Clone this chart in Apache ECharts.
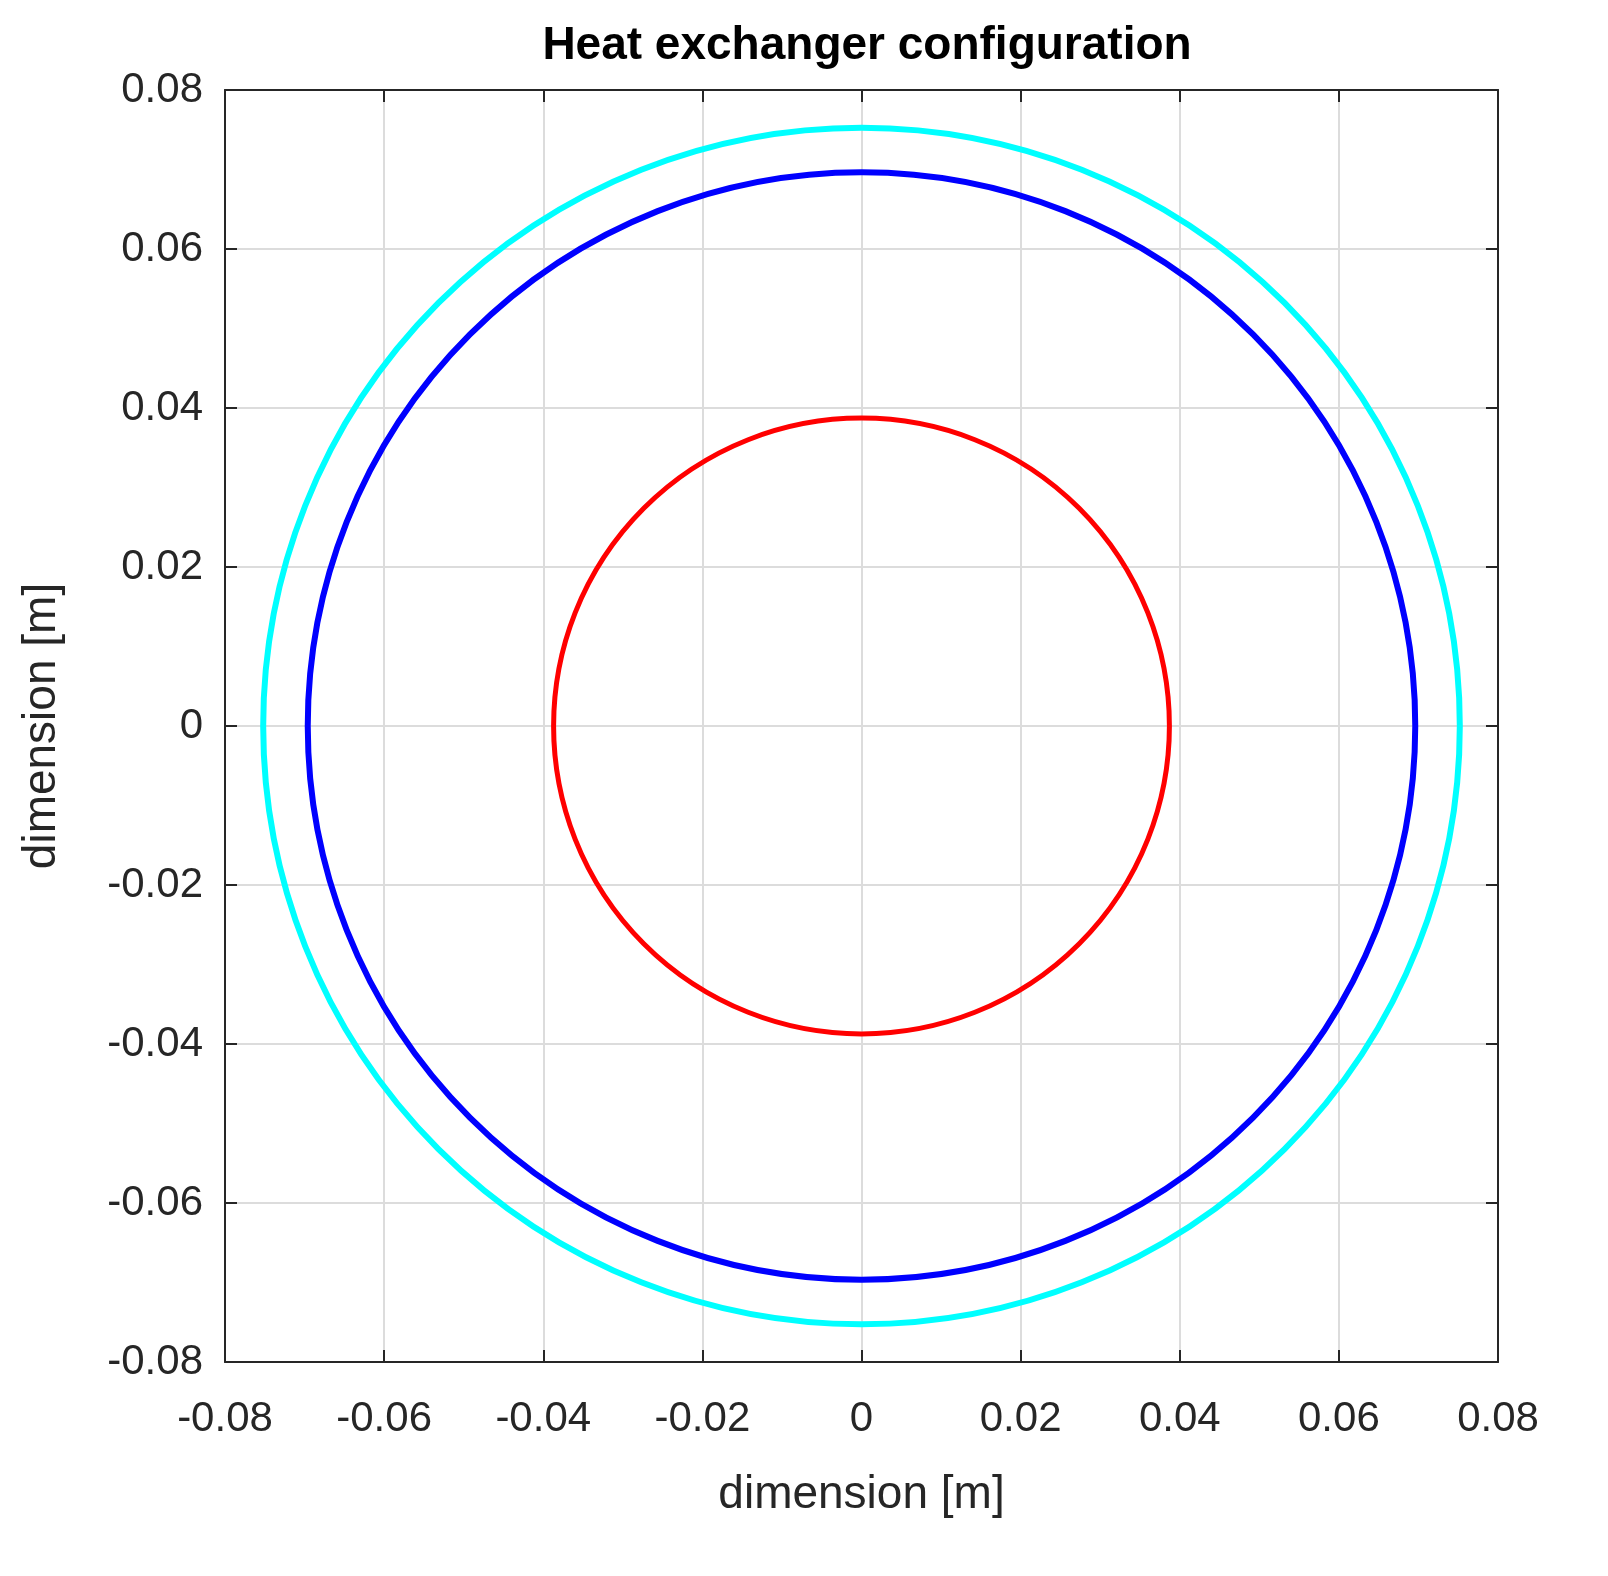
<!DOCTYPE html>
<html>
<head>
<meta charset="utf-8">
<script src="https://cdn.jsdelivr.net/npm/echarts@6/dist/echarts.min.js"></script>
<style>html,body{margin:0;padding:0;background:#fff}#chart{width:1608px;height:1576px}</style>
</head>
<body>
<div id="chart"></div>
<script>
// ring radii, in metres
var ringNames = ['inner tube', 'outer tube', 'shell'];
var ringRadii = [0.0387, 0.0696, 0.0752];
var ringColors = ['#ff0000', '#0000ff', '#00ffff'];
var ringWidths = [5, 6, 6];
var tickValues = [-0.08, -0.06, -0.04, -0.02, 0, 0.02, 0.04, 0.06, 0.08];

var fontFam = 'Liberation Sans, Arial, sans-serif';

function fmt(v) {
    return v === 0 ? '0' : String(+v.toFixed(2));
}

var baseAxis = {
    type: 'value', min: -0.08, max: 0.08, interval: 0.02,
    axisLine: { show: true, onZero: false, lineStyle: { color: '#262626', width: 2 } },
    axisTick: { show: true, inside: true, length: 12, lineStyle: { color: '#262626', width: 2 } },
    splitLine: { show: true, lineStyle: { color: '#dcdcdc', width: 2 } },
    axisLabel: { color: '#262626', fontSize: 42, fontFamily: fontFam, formatter: fmt },
    nameTextStyle: { color: '#262626', fontSize: 46, fontFamily: fontFam }
};

function ax(extra) {
    return echarts.util.merge(echarts.util.clone(baseAxis), extra, true);
}

var chart = echarts.init(document.getElementById('chart'));

var series = ringRadii.map(function (r, i) {
    return {
        name: ringNames[i],
        type: 'custom',
        data: [[0, 0, r]],
        clip: false,
        renderItem: function (params, api) {
            var c = api.coord([api.value(0), api.value(1)]);
            var rad = api.size([api.value(2), 0])[0];
            return {
                type: 'circle',
                shape: { cx: c[0], cy: c[1], r: rad },
                style: { fill: 'none', stroke: ringColors[i], lineWidth: ringWidths[i] }
            };
        }
    };
});

chart.setOption({
    backgroundColor: '#fff',
    animation: false,
    title: {
        text: 'Heat exchanger configuration', left: 862, top: 18, textAlign: 'center',
        textStyle: { fontSize: 46, fontWeight: 'bold', color: '#000', fontFamily: fontFam }
    },
    grid: { left: 225, right: 110, top: 90, bottom: 214 },
    xAxis: [
        ax({ position: 'bottom', name: 'dimension [m]', nameLocation: 'middle', nameGap: 110,
             axisLabel: { margin: 36 } }),
        ax({ position: 'top', axisLabel: { show: false }, splitLine: { show: false } })
    ],
    yAxis: [
        ax({ position: 'left', name: 'dimension [m]', nameLocation: 'middle', nameGap: 160,
             axisLabel: { margin: 22 } }),
        ax({ position: 'right', axisLabel: { show: false }, splitLine: { show: false } })
    ],
    series: series
});
</script>
</body>
</html>
